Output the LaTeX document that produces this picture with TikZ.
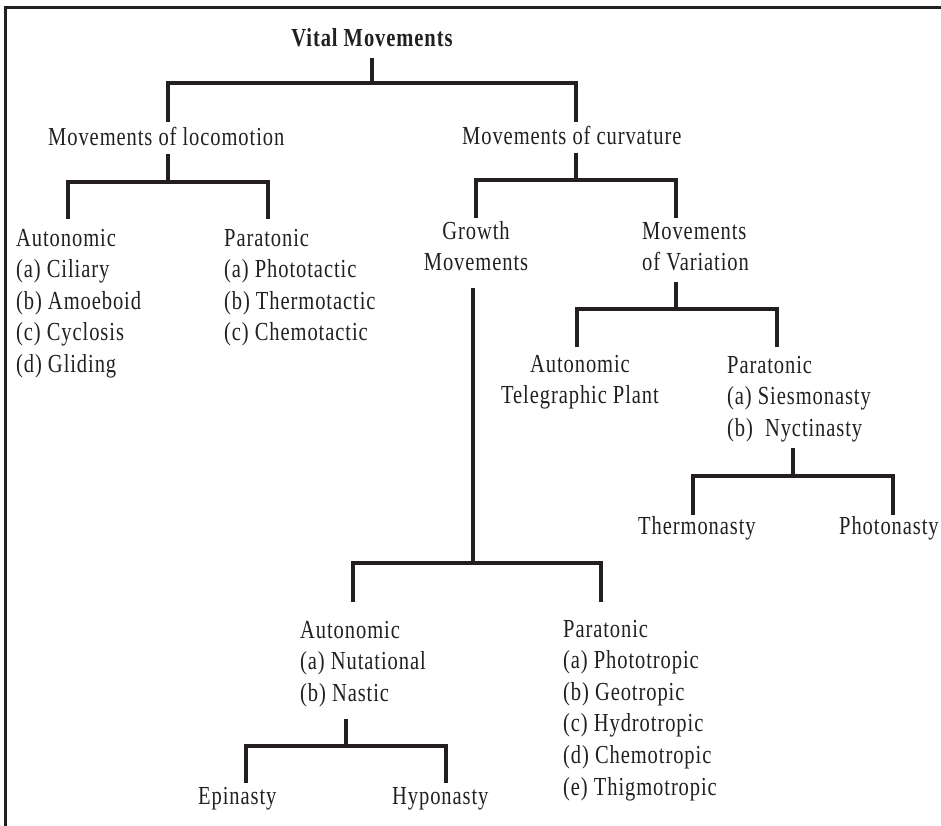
\documentclass[tikz,border=0pt]{standalone}
\usepackage{fontspec}
\setmainfont{Liberation Serif}[FakeStretch=0.79,LetterSpace=3.5]
\definecolor{ink}{HTML}{231F20}
\newcommand{\lblock}[1]{\begin{tabular}[t]{@{}l@{}}#1\end{tabular}}
\newcommand{\cblock}[1]{\begin{tabular}[t]{@{}c@{}}#1\end{tabular}}
\begin{document}
\begin{tikzpicture}[x=1pt,y=-1pt,
  txt/.style={inner sep=0pt, text=ink, font=\fontsize{26}{31.6}\selectfont},
  lt/.style={txt, anchor=base west},
  ct/.style={txt, anchor=base},
  title/.style={ct, font=\fontsize{26}{31.6}\selectfont\bfseries},
  conn/.style={draw=ink, line width=3.2pt, line join=miter, line cap=butt},
  frame/.style={draw=ink, line width=3pt, line join=miter}]
\useasboundingbox (0,0) rectangle (941,826);

% frame
\coordinate (fr-bl) at (5,826);
\coordinate (fr-tl) at (5,8);
\coordinate (fr-tr) at (941,8);
\draw[frame] (fr-bl) -- (fr-tl) -- (fr-tr);

% texts
\node[title] (vm) at (372,47) {Vital Movements};
\node[lt] (loco) at (48,146) {Movements of locomotion};
\node[lt] (curv) at (462,145) {Movements of curvature};
\node[lt] (lauto) at (16,246) {\lblock{Autonomic\\(a) Ciliary\\(b) Amoeboid\\(c) Cyclosis\\(d) Gliding}};
\node[lt] (lpara) at (224,246) {\lblock{Paratonic\\(a) Phototactic\\(b) Thermotactic\\(c) Chemotactic}};
\node[ct] (growth) at (476,239) {\cblock{Growth\\Movements}};
\node[lt] (vari) at (642,239) {\lblock{Movements\\of Variation}};
\node[ct] (vauto) at (580,372) {\cblock{Autonomic\\Telegraphic Plant}};
\node[lt] (vpara) at (727,373) {\lblock{Paratonic\\(a) Siesmonasty\\(b)\ \ Nyctinasty}};
\node[lt] (thermo) at (638,534) {Thermonasty};
\node[lt] (photo) at (839,534) {Photonasty};
\node[lt] (gauto) at (300,638) {\lblock{Autonomic\\(a) Nutational\\(b) Nastic}};
\node[lt] (gpara) at (563,637) {\lblock{Paratonic\\(a) Phototropic\\(b) Geotropic\\(c) Hydrotropic\\(d) Chemotropic\\(e) Thigmotropic}};
\node[lt] (epi) at (198,804) {Epinasty};
\node[lt] (hypo) at (392,804) {Hyponasty};

% connector points
\coordinate (vm-s) at (372,58);   \coordinate (b1) at (372,83);
\coordinate (loco-n) at (168,122); \coordinate (curv-n) at (576,122);
\coordinate (loco-s) at (168,154); \coordinate (b2) at (168,182);
\coordinate (lauto-n) at (68,219); \coordinate (lpara-n) at (268,219);
\coordinate (curv-s) at (576,153); \coordinate (b3) at (576,180);
\coordinate (growth-n) at (476,218); \coordinate (vari-n) at (676,218);
\coordinate (vari-s) at (676,282); \coordinate (b4) at (676,309);
\coordinate (vauto-n) at (577,347); \coordinate (vpara-n) at (777,347);
\coordinate (vpara-s) at (793,448); \coordinate (b5) at (793,476);
\coordinate (thermo-n) at (693,515); \coordinate (photo-n) at (893,515);
\coordinate (growth-s) at (473,288); \coordinate (b6) at (473,563);
\coordinate (gauto-n) at (353,602); \coordinate (gpara-n) at (601,602);
\coordinate (gauto-s) at (346,719); \coordinate (b7) at (346,746);
\coordinate (epi-n) at (246,783); \coordinate (hypo-n) at (446,783);

% connectors
\draw[conn] (vm-s) -- (b1);
\draw[conn] (loco-n) |- (b1) -| (curv-n);
\draw[conn] (loco-s) -- (b2);
\draw[conn] (lauto-n) |- (b2) -| (lpara-n);
\draw[conn] (curv-s) -- (b3);
\draw[conn] (growth-n) |- (b3) -| (vari-n);
\draw[conn] (vari-s) -- (b4);
\draw[conn] (vauto-n) |- (b4) -| (vpara-n);
\draw[conn] (vpara-s) -- (b5);
\draw[conn] (thermo-n) |- (b5) -| (photo-n);
\draw[conn] (growth-s) -- (b6);
\draw[conn] (gauto-n) |- (b6) -| (gpara-n);
\draw[conn] (gauto-s) -- (b7);
\draw[conn] (epi-n) |- (b7) -| (hypo-n);
\end{tikzpicture}
\end{document}
